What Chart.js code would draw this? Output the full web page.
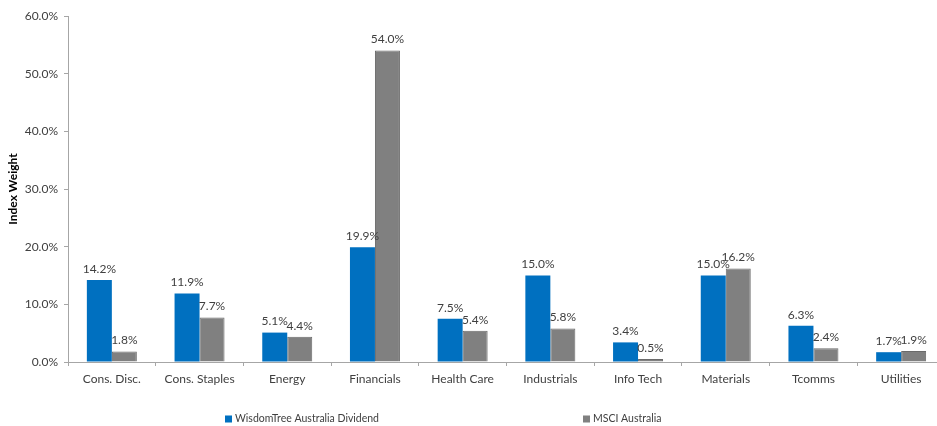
<!DOCTYPE html>
<html>
<head>
<meta charset="utf-8">
<script src="https://cdn.jsdelivr.net/npm/chart.js@4/dist/chart.umd.min.js"></script>
<style>
  html, body { margin: 0; padding: 0; background: #fff; overflow: hidden; }
  #wrap { width: 937px; height: 426px; overflow: hidden; }
</style>
</head>
<body>
<div id="wrap"><canvas id="sectorChart" width="955" height="426"></canvas></div>
<script>
// sector weights (%)
const sectors = ["Cons. Disc.", "Cons. Staples", "Energy", "Financials", "Health Care",
  "Industrials", "Info Tech", "Materials", "Tcomms", "Utilities"];
const wisdomTree = [14.2, 11.9, 5.1, 19.9, 7.5, 15.0, 3.4, 15.0, 6.3, 1.7];
const msci = [1.8, 7.7, 4.4, 54.0, 5.4, 5.8, 0.5, 16.2, 2.4, 1.9];
const seriesNames = ["WisdomTree Australia Dividend", "MSCI Australia"];

const FONT = "Lato, 'Open Sans', sans-serif";
const axisColor = "#a6a6a6";
const textColor = "#404040";

// value labels above each bar
const barLabels = {
  id: "barLabels",
  afterDatasetsDraw(chart) {
    const ctx = chart.ctx;
    ctx.save();
    ctx.font = "12px " + FONT;
    ctx.fillStyle = textColor;
    ctx.textAlign = "center";
    ctx.textBaseline = "bottom";
    chart.data.datasets.forEach((ds, i) => {
      chart.getDatasetMeta(i).data.forEach((bar, j) => {
        ctx.fillText(ds.data[j].toFixed(1) + "%", bar.x, bar.y - 5);
      });
    });
    ctx.restore();
  },
};

// legend drawn under the axis, items spread apart like the original
const spreadLegend = {
  id: "spreadLegend",
  afterDraw(chart, args, opts) {
    const ctx = chart.ctx;
    ctx.save();
    ctx.font = "10.5px " + FONT;
    ctx.textBaseline = "middle";
    chart.data.datasets.forEach((ds, i) => {
      const x = opts.xs[i];
      ctx.fillStyle = ds.backgroundColor;
      ctx.fillRect(x, opts.y - 3.5, 7, 7);
      ctx.fillStyle = textColor;
      ctx.fillText(ds.label, x + 10, opts.y);
    });
    ctx.restore();
  },
};

new Chart(document.getElementById("sectorChart"), {
  type: "bar",
  data: {
    labels: sectors,
    datasets: [
      {
        label: seriesNames[0],
        data: wisdomTree,
        backgroundColor: "#0070c0",
        borderColor: "#0070c0",
        borderWidth: 0,
        categoryPercentage: 0.57,
        barPercentage: 1.0,
      },
      {
        label: seriesNames[1],
        data: msci,
        backgroundColor: "#808080",
        borderColor: "#6a6a6a",
        borderWidth: 1,
        categoryPercentage: 0.57,
        barPercentage: 1.0,
      },
    ],
  },
  options: {
    responsive: false,
    animation: false,
    layout: { padding: { top: 16, right: 10, bottom: 30, left: 0 } },
    plugins: {
      legend: { display: false },
      tooltip: { enabled: false },
      spreadLegend: { xs: [225, 583], y: 419 },
    },
    scales: {
      x: {
        afterFit: (scale) => { scale.height = 34; },
        grid: {
          display: true,
          drawOnChartArea: false,
          drawTicks: true,
          offset: true,
          tickLength: 4,
          color: axisColor,
        },
        border: { color: axisColor },
        ticks: { color: textColor, font: { family: FONT, size: 12 }, padding: 6, maxRotation: 0 },
      },
      y: {
        min: 0,
        max: 60,
        afterFit: (scale) => { scale.width = 68; },
        grid: { drawOnChartArea: false, tickLength: 4, color: axisColor },
        border: { color: axisColor },
        ticks: {
          stepSize: 10,
          color: textColor,
          padding: 6,
          font: { family: FONT, size: 12 },
          callback: (v) => v.toFixed(1) + "%",
        },
        title: {
          display: true,
          text: "Index Weight",
          color: "#000",
          font: { family: FONT, size: 12, weight: "bold" },
          padding: { top: 6, bottom: 0 },
        },
      },
    },
  },
  plugins: [barLabels, spreadLegend],
});
</script>
</body>
</html>
